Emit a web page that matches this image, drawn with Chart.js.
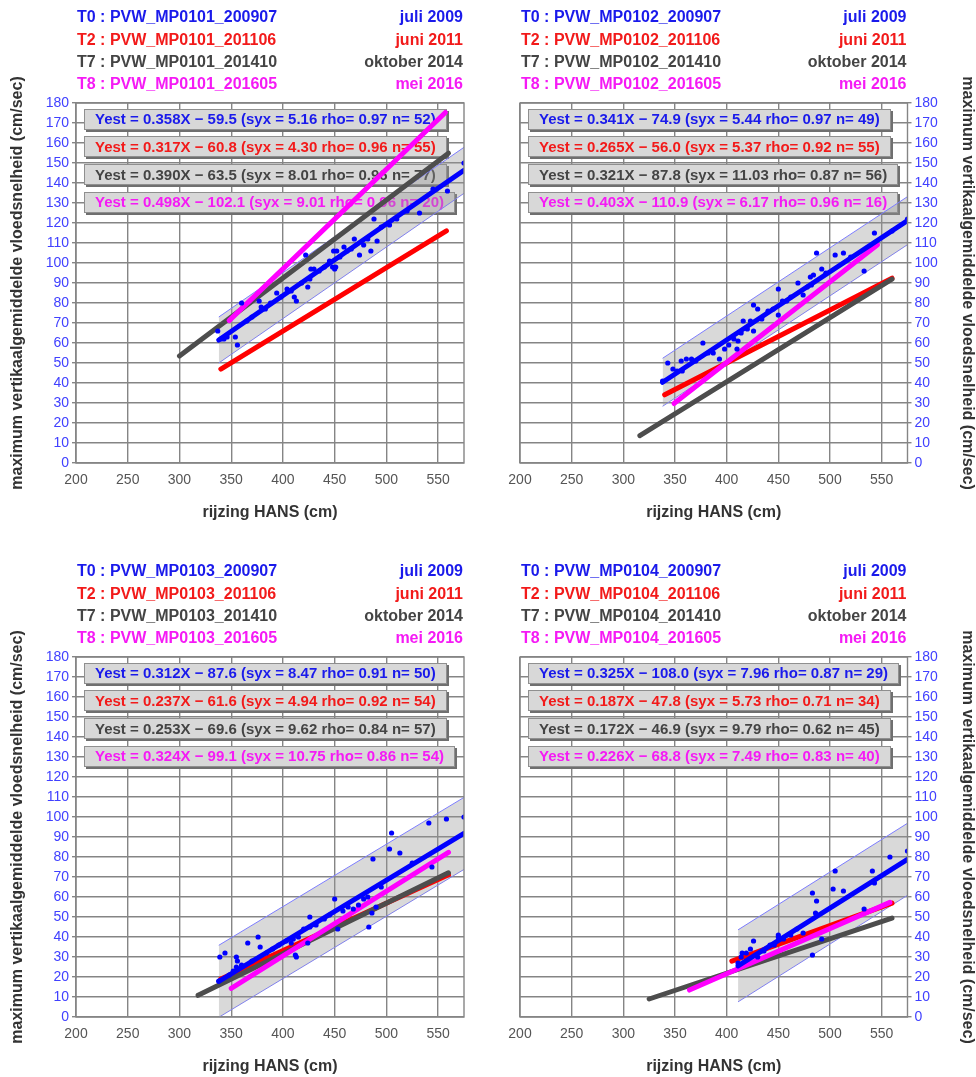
<!DOCTYPE html>
<html>
<head>
<meta charset="utf-8">
<script src="https://cdn.jsdelivr.net/npm/chart.js@4.4.1/dist/chart.umd.min.js"></script>
<style>
  html, body { margin: 0; padding: 0; background: #ffffff; }
  #wrap { position: relative; width: 976px; height: 1077px; overflow: hidden; }
  #wrap canvas { position: absolute; }
</style>
</head>
<body>
<div id="wrap">
  <canvas id="c0" width="488" height="523" style="left:0px;top:0px"></canvas>
  <canvas id="c1" width="488" height="523" style="left:488px;top:0px"></canvas>
  <canvas id="c2" width="488" height="523" style="left:0px;top:554px"></canvas>
  <canvas id="c3" width="488" height="523" style="left:488px;top:554px"></canvas>
</div>
<script>
// Measuring stations, one panel each
const stations = ['MP0101', 'MP0102', 'MP0103', 'MP0104'];

// Surveys
const surveyCodes = ['T0', 'T2', 'T7', 'T8'];
const surveyStamps = ['200907', '201106', '201410', '201605'];
const surveyDates = ['juli 2009', 'juni 2011', 'oktober 2014', 'mei 2016'];

// Regression results per station (rows) and survey (columns)
const slopes = [
  [0.358, 0.317, 0.390, 0.498],
  [0.341, 0.265, 0.321, 0.403],
  [0.312, 0.237, 0.253, 0.324],
  [0.325, 0.187, 0.172, 0.226]
];
const intercepts = [
  [-59.5, -60.8, -63.5, -102.1],
  [-74.9, -56.0, -87.8, -110.9],
  [-87.6, -61.6, -69.6, -99.1],
  [-108.0, -47.8, -46.9, -68.8]
];
const syxValues = [
  [5.16, 4.30, 8.01, 9.01],
  [5.44, 5.37, 11.03, 6.17],
  [8.47, 4.94, 9.62, 10.75],
  [7.96, 5.73, 9.79, 7.49]
];
const rhoValues = [
  [0.97, 0.96, 0.96, 0.96],
  [0.97, 0.92, 0.87, 0.96],
  [0.91, 0.92, 0.84, 0.86],
  [0.87, 0.71, 0.62, 0.83]
];
const nValues = [
  [52, 55, 77, 20],
  [49, 55, 56, 16],
  [50, 54, 57, 54],
  [29, 34, 45, 40]
];
// HANS range covered by each fitted line (cm)
const fitFrom = [
  [338, 340, 300, 348],
  [338, 340, 316, 349],
  [338, 340, 318, 350],
  [411, 405, 325, 364]
];
const fitTo = [
  [575, 558, 560, 557],
  [575, 560, 560, 546],
  [575, 560, 560, 560],
  [575, 560, 560, 558]
];
// Spread band around the T0 fit (half-width in cm/sec) and its HANS range
const bandHalf = [11.5, 12, 18, 18];
const bandFrom = [338, 338, 338, 411];
const bandTo = [575, 575, 575, 575];

// T0 observations: [rijzing HANS (cm), max. vloedsnelheid (cm/sec)]
const obsMP0101 = [
  [337,66],[340,62],[343,62],[346,63],[354,63],[356,59],[360,80],[365,71],[370,73],[377,81],
  [379,78],[383,77],[388,80],[394,85],[398,83],[404,87],[408,86],[411,83],[413,81],[418,90],
  [422,104],[424,88],[426,92],[427,97],[430,97],[435,96],[440,98],[445,101],[448,98],[450,97],
  [451,98],[449,106],[452,106],[455,103],[459,108],[462,106],[466,107],[469,112],[474,104],[478,109],
  [482,112],[485,106],[488,122],[491,111],[495,118],[503,119],[510,122],[520,126],[532,125],[545,137],
  [559,136],[575,150]
];
const obsMP0102 = [
  [338,41],[343,50],[348,47],[352,46],[356,51],[357,46],[361,52],[366,52],[370,51],[377,60],
  [382,55],[387,55],[393,52],[398,57],[402,59],[407,62],[410,57],[411,61],[414,65],[416,71],
  [420,67],[423,71],[426,66],[426,79],[430,77],[434,72],[440,76],[445,77],[450,87],[450,74],
  [454,81],[458,81],[462,83],[469,90],[474,84],[478,88],[481,93],[482,89],[484,94],[487,105],
  [492,97],[496,95],[505,104],[513,105],[520,103],[533,96],[543,115],[560,116],[575,122]
];
const obsMP0103 = [
  [338,18],[339,30],[344,32],[348,21],[352,23],[355,25],[355,30],[356,28],[360,26],[366,37],
  [370,28],[376,40],[378,35],[384,32],[390,34],[396,36],[403,38],[408,37],[410,39],[412,31],
  [413,30],[415,40],[420,44],[424,37],[426,45],[426,50],[432,46],[440,49],[445,51],[450,59],
  [453,44],[458,53],[463,55],[468,54],[473,56],[478,59],[482,60],[483,45],[486,52],[487,79],
  [490,55],[495,65],[503,84],[505,92],[513,82],[525,77],[541,97],[544,75],[558,99],[575,100]
];
const obsMP0104 = [
  [411,27],[414,30],[415,32],[419,32],[423,34],[426,38],[430,30],[436,33],[442,36],[446,36],
  [450,41],[450,40],[455,39],[462,41],[468,44],[474,42],[483,62],[483,31],[486,52],[487,58],
  [492,39],[503,64],[505,73],[513,63],[533,54],[541,73],[543,67],[558,80],[575,83]
];
const observations = [obsMP0101, obsMP0102, obsMP0103, obsMP0104];

// Axis settings
const xMin = 200, xMax = 575, xStep = 50;
const yMin = 0, yMax = 180, yStep = 10;
const xTitle = 'rijzing HANS (cm)';
const yTitle = 'maximum vertikaalgemiddelde vloedsnelheid (cm/sec)';

// ---- styling ----
const FONT = '"Liberation Sans", Arial, Helvetica, sans-serif';
const TEXT_COLORS = ['#1a1aeb', '#f21a1a', '#444444', '#f51af5'];
const LINE_COLORS = ['#0000ff', '#ff0000', '#4d4d4d', '#ff00ff'];
const LINE_ORDER = [1, 4, 3, 2];   // lower order is drawn on top
const GRID = '#858585';

function eqText(p, k) {
  const b = intercepts[p][k];
  return 'Yest = ' + slopes[p][k].toFixed(3) + 'X ' + (b < 0 ? '\u2212' : '+') + ' ' +
    Math.abs(b).toFixed(1) + ' (syx = ' + syxValues[p][k].toFixed(2) +
    ' rho= ' + rhoValues[p][k].toFixed(2) + ' n= ' + nValues[p][k] + ')';
}
function fitY(p, k, x) { return slopes[p][k] * x + intercepts[p][k]; }

const decor = {
  id: 'decor',
  beforeDatasetsDraw(chart, args, opts) {
    const { ctx, chartArea: a } = chart;
    const p = opts.panel;
    ctx.save();
    ctx.font = 'bold 15px ' + FONT;
    ctx.textBaseline = 'middle';
    ctx.textAlign = 'left';
    for (let k = 0; k < 4; k++) {
      const t = eqText(p, k);
      const w = Math.round(ctx.measureText(t).width + 22);
      const h = 21;
      const x = Math.round(a.left + 8);
      const cy = a.top + 16 + k * 27.7;
      const y = Math.round(cy - h / 2);
      ctx.fillStyle = '#6f6f6f';
      ctx.fillRect(x + 2, y + 2, w, h);
      ctx.fillStyle = '#d8d8d8';
      ctx.fillRect(x, y, w, h);
      ctx.strokeStyle = '#8f8f8f';
      ctx.lineWidth = 1;
      ctx.strokeRect(x + 0.5, y + 0.5, w - 1, h - 1);
      ctx.fillStyle = TEXT_COLORS[k];
      ctx.fillText(t, x + 11, cy + 1);
    }
    ctx.restore();
  },
  afterDraw(chart, args, opts) {
    const { ctx, chartArea: a } = chart;
    const p = opts.panel;
    ctx.save();
    // plot frame
    ctx.strokeStyle = GRID;
    ctx.lineWidth = 1.4;
    ctx.strokeRect(a.left, a.top, a.right - a.left, a.bottom - a.top);
    // survey header
    ctx.font = 'bold 16px ' + FONT;
    ctx.textBaseline = 'middle';
    for (let k = 0; k < 4; k++) {
      const cy = a.top - 85 + k * 22.3;
      ctx.fillStyle = TEXT_COLORS[k];
      ctx.textAlign = 'left';
      ctx.fillText(surveyCodes[k] + ' : PVW_' + stations[p] + '_' + surveyStamps[k], a.left + 1, cy);
      ctx.textAlign = 'right';
      ctx.fillText(surveyDates[k], a.right - 1, cy);
    }
    // axis titles
    ctx.fillStyle = '#333333';
    ctx.textAlign = 'center';
    ctx.fillText(xTitle, (a.left + a.right) / 2, a.bottom + 50);
    const midY = (a.top + a.bottom) / 2;
    if (opts.side === 'left') {
      ctx.translate(18, midY);
      ctx.rotate(-Math.PI / 2);
    } else {
      ctx.translate(chart.width - 9, midY);
      ctx.rotate(Math.PI / 2);
    }
    ctx.fillText(yTitle, 0, 0);
    ctx.restore();
  }
};

function buildPanel(p) {
  const side = (p % 2 === 0) ? 'left' : 'right';
  const datasets = [];
  // spread band around the T0 fit
  const b0 = bandFrom[p], b1 = bandTo[p], hw = bandHalf[p];
  datasets.push({
    type: 'line', data: [{ x: b0, y: fitY(p, 0, b0) - hw }, { x: b1, y: fitY(p, 0, b1) - hw }],
    borderColor: '#7d7dff', borderWidth: 1, pointRadius: 0, fill: false, order: 9
  });
  datasets.push({
    type: 'line', data: [{ x: b0, y: fitY(p, 0, b0) + hw }, { x: b1, y: fitY(p, 0, b1) + hw }],
    borderColor: '#7d7dff', borderWidth: 1, pointRadius: 0,
    fill: '-1', backgroundColor: 'rgba(150,150,150,0.36)', order: 8
  });
  // fitted lines per survey
  for (let k = 0; k < 4; k++) {
    const x0 = fitFrom[p][k], x1 = fitTo[p][k];
    datasets.push({
      type: 'line', data: [{ x: x0, y: fitY(p, k, x0) }, { x: x1, y: fitY(p, k, x1) }],
      borderColor: LINE_COLORS[k], borderWidth: 5, borderCapStyle: 'round',
      pointRadius: 0, fill: false, order: LINE_ORDER[k]
    });
  }
  // T0 observations
  datasets.push({
    type: 'scatter', data: observations[p].map(d => ({ x: d[0], y: d[1] })),
    pointRadius: 2.6, pointBackgroundColor: '#0000ff', pointBorderWidth: 0, order: 0
  });

  const yWidth = side === 'left' ? 76 : 68.5;
  new Chart(document.getElementById('c' + p), {
    data: { datasets },
    options: {
      responsive: false, animation: false, devicePixelRatio: 1,
      events: [],
      layout: { padding: side === 'left'
        ? { top: 103, left: 0, right: 24, bottom: 0 }
        : { top: 103, left: 32, right: 0, bottom: 0 } },
      plugins: { legend: { display: false }, tooltip: { enabled: false }, decor: { panel: p, side } },
      scales: {
        x: {
          type: 'linear', position: 'bottom', min: xMin, max: xMax,
          ticks: { stepSize: xStep, includeBounds: false, color: '#555555', padding: 9,
                   font: { family: FONT, size: 14 } },
          grid: { color: GRID, lineWidth: 1.4, drawTicks: false },
          border: { display: false },
          afterFit(s) { s.height = 60; }
        },
        y: {
          type: 'linear', position: side, min: yMin, max: yMax,
          ticks: { stepSize: yStep, color: '#4040ff', padding: 3,
                   font: { family: FONT, size: 14 } },
          grid: { color: GRID, lineWidth: 1.4, tickLength: 4 },
          border: { display: false },
          afterFit(s) { s.width = yWidth; }
        }
      }
    },
    plugins: [decor]
  });
}

for (let p = 0; p < stations.length; p++) buildPanel(p);
</script>
</body>
</html>
